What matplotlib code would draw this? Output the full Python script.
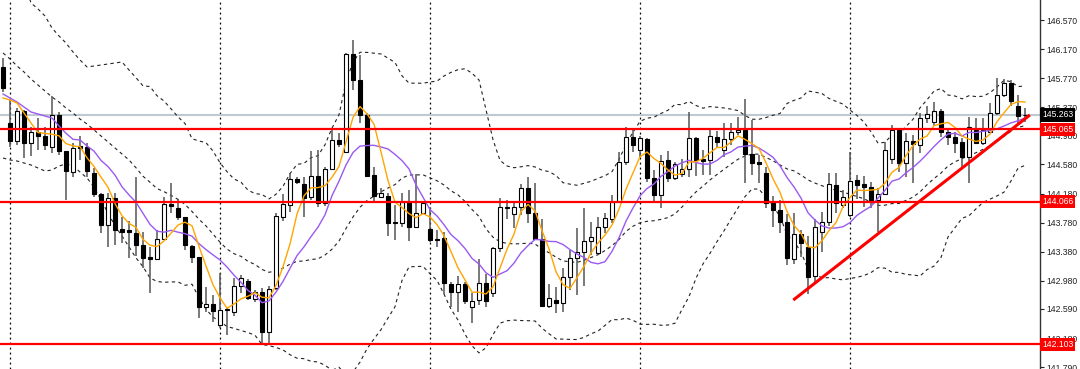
import matplotlib
matplotlib.use('Agg')
import matplotlib.pyplot as plt
import matplotlib.transforms as mtransforms
import numpy as np
import pandas as pd

# OHLC data, 147 bars
opens = [145.923, 145.151, 144.903, 145.317, 144.876, 145.027, 144.972, 144.821, 145.262, 144.766,
         144.476, 144.835, 144.821, 144.463, 144.173, 143.746, 144.118, 143.691, 143.678, 143.636,
         143.471, 143.306, 143.278, 143.554, 144.036, 143.980, 143.857, 143.457, 143.306, 142.617,
         142.658, 142.369, 142.576, 142.548, 142.906, 142.975, 142.727, 142.823, 142.273, 142.878,
         143.857, 144.022, 144.380, 144.311, 144.132, 144.421, 144.049, 144.518, 144.917, 144.752,
         146.102, 145.744, 145.262, 144.435, 144.132, 144.145, 143.788, 143.774, 144.063, 143.718,
         143.912, 143.691, 143.554, 143.567, 142.934, 142.823, 142.934, 142.617, 142.713, 142.947,
         142.810, 143.429, 143.980, 143.898, 143.994, 144.256, 143.912, 143.554, 142.631, 142.713,
         142.672, 143.030, 143.292, 143.374, 143.526, 143.361, 143.718, 143.829, 144.063, 144.614,
         144.959, 144.779, 144.931, 144.394, 144.159, 144.642, 144.394, 144.449, 144.518, 144.945,
         144.655, 144.642, 144.959, 144.779, 144.931, 145.027, 145.055, 144.724, 144.614, 144.463,
         144.049, 143.953, 143.788, 143.278, 143.622, 143.443, 143.044, 143.650, 143.788, 144.297,
         144.022, 143.884, 144.366, 144.311, 144.270, 144.091, 144.173, 144.655, 145.055, 144.601,
         144.903, 144.848, 145.220, 145.165, 145.317, 145.027, 144.959, 144.890, 144.683, 145.055,
         144.876, 145.027, 145.289, 145.537, 145.702, 145.386, 145.262]
highs = [146.047, 145.468, 145.358, 145.330, 145.096, 145.220, 145.096, 145.523, 145.303, 144.770,
         144.876, 144.972, 144.876, 144.532, 144.187, 144.187, 144.187, 143.857, 143.801, 144.408,
         143.650, 143.443, 143.678, 144.132, 144.325, 144.104, 143.860, 143.471, 143.310, 142.892,
         142.782, 143.085, 142.617, 143.016, 143.058, 143.003, 142.851, 142.878, 142.906, 143.912,
         144.173, 144.463, 144.408, 144.408, 144.766, 144.779, 144.545, 145.055, 145.014, 146.116,
         146.295, 146.088, 145.289, 144.545, 144.256, 144.187, 144.022, 144.187, 144.228, 144.449,
         144.063, 143.994, 143.678, 143.650, 142.961, 143.044, 142.961, 142.810, 143.278, 143.071,
         143.443, 144.118, 144.091, 144.049, 144.311, 144.408, 144.325, 143.829, 142.934, 142.892,
         143.154, 143.402, 143.705, 143.980, 143.788, 143.857, 143.912, 144.159, 144.752, 145.096,
         145.055, 144.972, 144.945, 144.504, 144.711, 144.766, 144.614, 144.655, 145.303, 144.959,
         144.779, 145.083, 145.041, 145.151, 145.151, 145.234, 145.482, 145.193, 144.711, 144.545,
         144.146, 144.091, 143.898, 143.912, 143.678, 143.595, 143.829, 143.925, 144.463, 144.463,
         144.228, 144.752, 144.435, 144.421, 144.339, 144.256, 144.890, 145.124, 145.069, 145.014,
         144.986, 145.289, 145.385, 145.440, 145.344, 145.083, 145.027, 144.945, 145.234, 145.220,
         145.220, 145.427, 145.771, 145.757, 145.744, 145.537, 145.358]
lows = [145.578, 144.821, 144.848, 144.669, 144.697, 144.779, 144.779, 144.738, 144.711, 144.091,
        144.408, 144.642, 144.408, 144.132, 143.636, 143.443, 143.471, 143.498, 143.292, 143.319,
        143.154, 142.810, 143.264, 143.540, 143.912, 143.815, 143.402, 143.223, 142.465, 142.548,
        142.410, 142.328, 142.231, 142.493, 142.810, 142.713, 142.686, 142.121, 142.121, 142.851,
        143.801, 143.925, 144.311, 143.857, 144.091, 143.994, 144.008, 144.504, 144.821, 144.738,
        145.606, 145.151, 144.408, 144.049, 144.118, 143.595, 143.540, 143.718, 143.526, 143.705,
        143.898, 143.512, 143.443, 142.796, 142.617, 142.548, 142.658, 142.397, 142.645, 142.617,
        142.755, 143.374, 143.829, 143.705, 143.884, 143.774, 143.540, 142.617, 142.603, 142.534,
        142.548, 142.851, 142.782, 142.906, 143.333, 143.333, 143.636, 143.774, 144.049, 144.573,
        144.752, 144.669, 144.339, 144.049, 143.980, 144.339, 144.366, 144.408, 144.408, 144.421,
        144.435, 144.435, 144.821, 144.683, 144.848, 144.986, 144.325, 144.435, 144.325, 143.980,
        143.718, 143.636, 143.196, 143.209, 143.306, 142.796, 142.934, 143.374, 143.733, 143.912,
        143.980, 143.857, 144.104, 143.994, 143.980, 143.650, 144.159, 144.587, 144.476, 144.408,
        144.325, 144.738, 145.151, 145.110, 144.959, 144.848, 144.738, 144.532, 144.325, 144.862,
        144.848, 145.014, 145.262, 145.509, 145.386, 145.151, 145.165]
closes = [145.633, 144.903, 145.317, 144.876, 145.027, 144.972, 144.848, 145.262, 144.766, 144.490,
          144.807, 144.807, 144.490, 144.173, 143.746, 144.118, 143.678, 143.650, 143.650, 143.471,
          143.292, 143.278, 143.554, 144.036, 144.008, 143.857, 143.471, 143.306, 142.617, 142.658,
          142.562, 142.576, 142.589, 142.906, 143.016, 142.741, 142.823, 142.273, 142.865, 143.870,
          144.036, 144.380, 144.339, 144.118, 144.421, 144.049, 144.518, 144.917, 144.862, 146.102,
          145.744, 145.262, 144.421, 144.145, 144.187, 143.774, 143.774, 144.063, 143.718, 143.912,
          144.049, 143.540, 143.540, 142.947, 142.823, 142.934, 142.700, 142.700, 142.947, 142.700,
          143.429, 143.994, 143.994, 143.994, 144.256, 143.912, 143.554, 142.631, 142.741, 142.672,
          143.030, 143.292, 143.374, 143.526, 143.581, 143.718, 143.843, 144.063, 144.614, 144.959,
          144.848, 144.945, 144.394, 144.159, 144.628, 144.394, 144.587, 144.518, 144.945, 144.642,
          144.628, 144.972, 144.890, 144.931, 145.027, 145.055, 144.724, 144.601, 144.587, 144.049,
          143.953, 143.788, 143.292, 143.622, 143.498, 143.030, 143.718, 143.788, 144.311, 144.049,
          144.132, 144.352, 144.297, 144.270, 144.091, 144.173, 144.779, 145.055, 144.601, 144.903,
          144.862, 145.220, 145.275, 145.317, 145.027, 144.959, 144.876, 144.683, 145.096, 144.876,
          145.055, 145.289, 145.537, 145.702, 145.454, 145.248, 145.263]

# indicator values before enough history is available
ma5_head = [145.496, 145.468, 145.427, 145.289]
ma10_head = [145.551, 145.496, 145.440, 145.372, 145.303, 145.275, 145.248, 145.220, 145.110]
bb_mid_head = [146.116, 146.033, 145.937, 145.854, 145.757, 145.675, 145.592, 145.509, 145.440, 145.358,
               145.289, 145.206, 145.138, 145.055, 144.972, 144.890, 144.807, 144.724, 144.642]
bb_up_head = [147.562, 147.424, 147.245, 147.107, 146.804, 146.722, 146.625, 146.460, 146.350, 146.253,
              146.129, 146.019, 145.923, 145.936, 145.950, 145.964, 145.978, 145.992, 145.881]
bb_dn_head = [144.669, 144.642, 144.628, 144.601, 144.573, 144.532, 144.490, 144.504, 144.559, 144.587,
              144.559, 144.476, 144.394, 144.270, 144.091, 143.912, 143.733, 143.595, 143.443]

# horizontal levels, last price and trendline anchors
levels = [145.065, 144.066, 142.103]
last_price = 145.263
trend_x = [112.9, 146.7]
trend_y = [142.713, 145.262]
grid_bars = [1, 31, 61, 91, 121]
tick_vals = [146.570, 146.170, 145.770, 145.370, 144.980, 144.580, 144.180,
             143.780, 143.380, 142.980, 142.590, 142.180, 141.790]

n = len(closes)
x = np.arange(n)
o = np.array(opens); h = np.array(highs); l = np.array(lows); c = np.array(closes)

cs = pd.Series(closes)
ma5 = cs.rolling(5).mean().to_numpy()
ma5[:4] = ma5_head
ma10 = cs.rolling(10).mean().to_numpy()
ma10[:9] = ma10_head
mid = cs.rolling(20).mean()
sd = cs.rolling(20).std(ddof=0)
bb_mid = mid.to_numpy()
bb_up = (mid + 2 * sd).to_numpy()
bb_dn = (mid - 2 * sd).to_numpy()
bb_mid[:19] = bb_mid_head
bb_up[:19] = bb_up_head
bb_dn[:19] = bb_dn_head

plt.rcParams['font.family'] = ['Liberation Sans', 'DejaVu Sans']

fig = plt.figure(figsize=(10.8, 3.69), dpi=100)
ax = fig.add_axes([0, 0, 1040 / 1080, 1])
ax.set_xlim(-0.43, 148.14)
ax.set_ylim(141.763, 146.8455)

# vertical dotted grid
for g in grid_bars:
    ax.axvline(g, color='black', lw=0.9, ls=(0, (1.5, 2.5)), zorder=0.5)

# last price line
ax.axhline(last_price, color='#c0c8d0', lw=1.5, zorder=1)

# bollinger bands
for band in (bb_up, bb_mid, bb_dn):
    ax.plot(x, band, color='#222222', lw=0.8, ls=(0, (3, 3)), zorder=1.5)

# candles
up = c >= o
ax.vlines(x, l, h, color='#555555', lw=1.1, zorder=2)
body_lo = np.minimum(o, c)
body_h = np.maximum(np.abs(c - o), 0.006)
ax.bar(x[up], body_h[up], bottom=body_lo[up], width=0.62, color='white',
       edgecolor='black', lw=0.8, zorder=2.5)
ax.bar(x[~up], body_h[~up], bottom=body_lo[~up], width=0.62, color='black',
       edgecolor='black', lw=0.8, zorder=2.5)

# moving averages
ax.plot(x, ma10, color='#9b59f0', lw=1.0, zorder=3)
ax.plot(x, ma5, color='#ffa500', lw=1.0, zorder=3.2)

# support / resistance
for lv in levels:
    ax.axhline(lv, color='#ff0000', lw=1.6, zorder=4)
ax.plot(trend_x, trend_y, color='#ff0000', lw=2.2, zorder=4, solid_capstyle='butt')

# axis styling
for s in ('top', 'left', 'bottom'):
    ax.spines[s].set_visible(False)
ax.spines['right'].set_color('#333333')
ax.spines['right'].set_linewidth(1.0)
ax.set_xticks([])
ax.yaxis.tick_right()
ax.set_yticks(tick_vals)
ax.set_yticklabels([f'{v:.3f}' for v in tick_vals])
ax.tick_params(axis='y', length=3, width=0.8, pad=1.5, labelsize=6.2, colors='#222222')

trans = mtransforms.blended_transform_factory(ax.transAxes, ax.transData)
for lv in levels:
    ax.text(1.002, lv, f'{lv:.3f}', transform=trans, ha='left', va='center', fontsize=6.2,
            color='white', zorder=10, clip_on=False,
            bbox=dict(boxstyle='square,pad=0.25', fc='#ff0000', ec='none'))
ax.text(1.002, last_price, f'{last_price:.3f}', transform=trans, ha='left', va='center', fontsize=6.2,
        color='white', zorder=10, clip_on=False,
        bbox=dict(boxstyle='square,pad=0.25', fc='black', ec='none'))

fig.savefig('out.png', dpi=100, facecolor='white')
